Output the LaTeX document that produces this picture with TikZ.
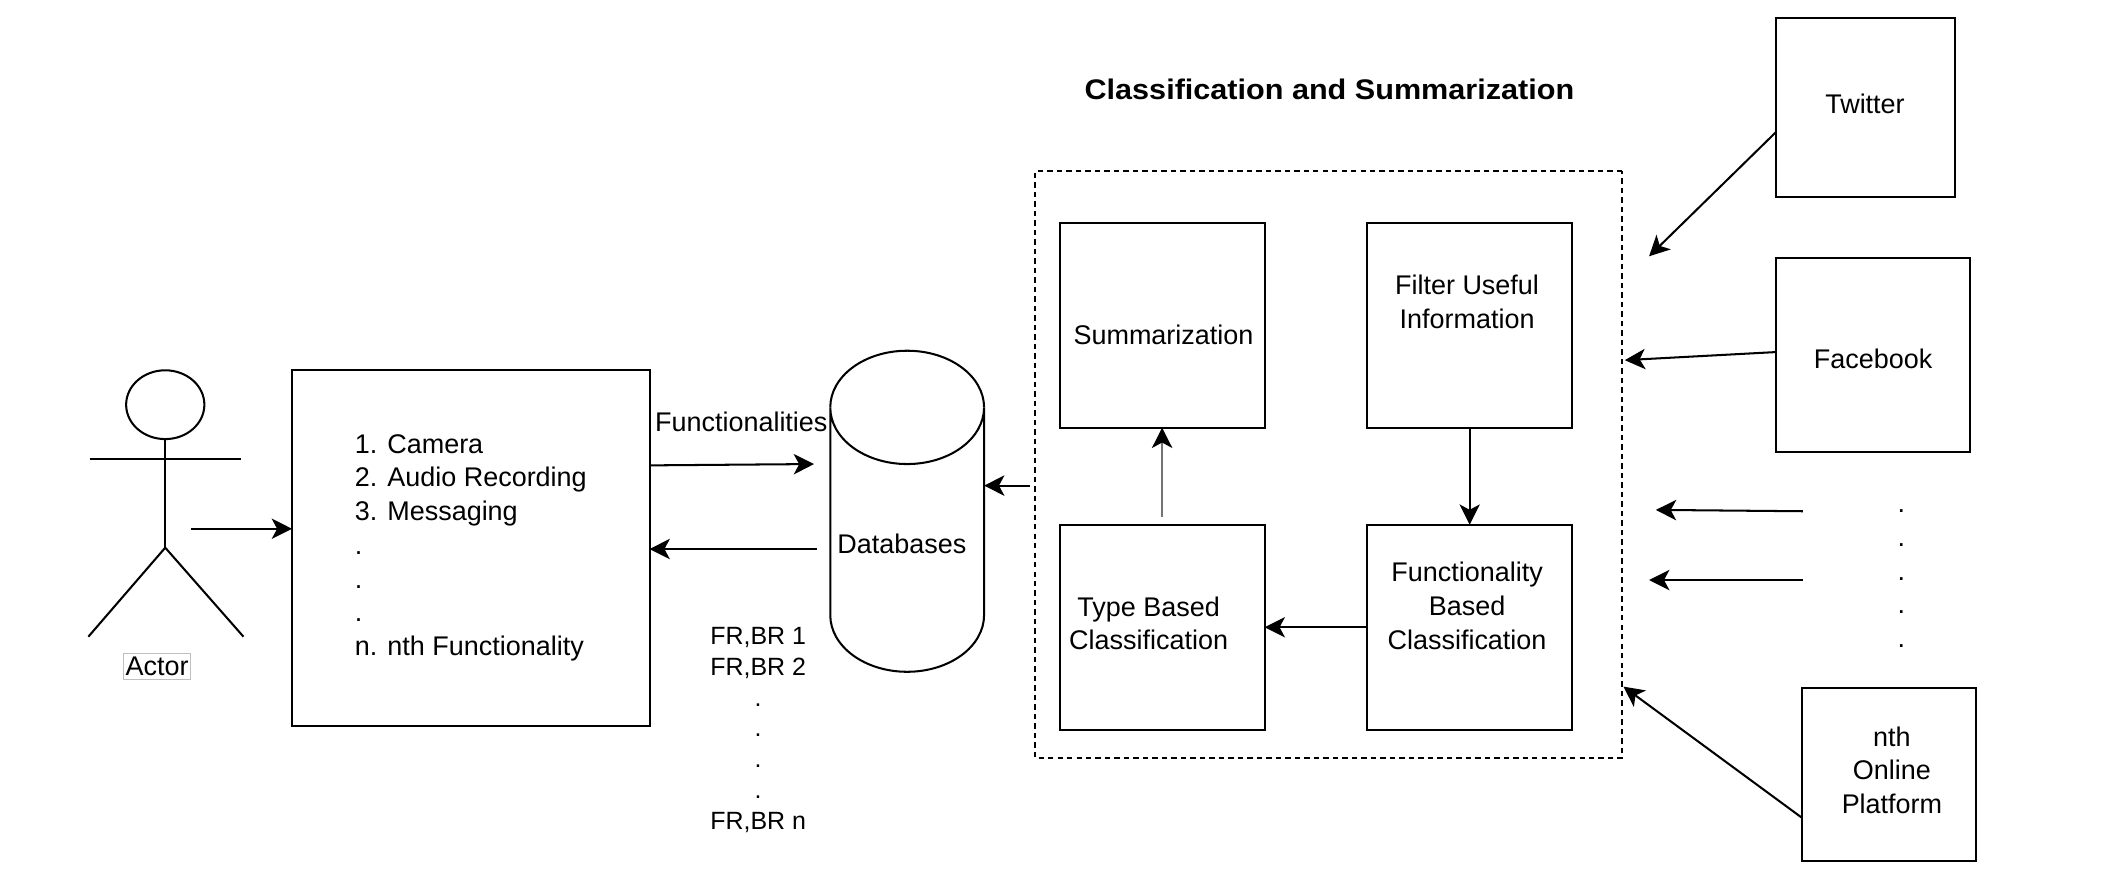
\documentclass[tikz,border=0pt]{standalone}
\usepackage{fontspec}
\setmainfont{Liberation Sans}
\newfontfamily\titlefont[FakeStretch=1.08]{Liberation Sans}
\usetikzlibrary{arrows.meta,calc,shapes.geometric}
\tikzset{
  lw/.style={line width=1.5pt,black},
  boxn/.style={draw,lw,inner sep=0pt,outer sep=0pt,fill=none},
  txt/.style={inner sep=0pt,outer sep=0pt,align=center,font=\fontsize{20}{25}\selectfont},
  smalltxt/.style={inner sep=0pt,outer sep=0pt,align=center,font=\fontsize{18.5}{22.8}\selectfont},
  arr/.style={lw,-{Stealth[length=15pt,width=15pt,inset=4pt]}},
}
\begin{document}
\begin{tikzpicture}[x=1pt,y=-1pt]
\useasboundingbox (0,0) rectangle (1560,647.6);
\begin{scope}[xshift=0.5pt,scale=0.995,every node/.append style={transform shape}]
% actor
\node[draw,lw,ellipse,inner sep=0pt,minimum width=58pt,minimum height=51pt] (head) at (122,300) {};
\coordinate (hip) at (122,406);
\coordinate (armL) at (66,340);
\coordinate (armR) at (178,340);
\coordinate (footL) at (65,472);
\coordinate (footR) at (180,472);
\draw[lw] (head.south) -- (hip);
\draw[lw] (armL) -- (armR);
\draw[lw] (footL) -- (hip) -- (footR);
\node[draw=black!25,line width=.6pt,inner xsep=1.5pt,inner ysep=3pt,font=\fontsize{20}{24}\selectfont] (actor) at (116,494) {Actor};
% functionality list
\node[boxn,minimum width=265pt,minimum height=264pt,align=left,font=\fontsize{20}{25}\selectfont] (list) at (348.5,406)
  {1. Camera\\2. Audio Recording\\3. Messaging\\.\\.\\.\\n. nth Functionality};
% database
\node[inner sep=0pt,outer sep=0pt,minimum width=114pt,minimum height=238pt] (db) at (672,379) {};
\draw[lw] (db.north west) ++(0,42) arc[start angle=180,end angle=0,x radius=57pt,y radius=-42pt]
  -- ++(0,154) arc[start angle=0,end angle=180,x radius=57pt,y radius=-42pt] -- cycle;
\draw[lw] (db.north west) ++(0,42) arc[start angle=180,end angle=360,x radius=57pt,y radius=-42pt];
\node[txt] (dblabel) at (668,403) {Databases};
\node[smalltxt,font=\fontsize{20}{22}\selectfont] (funcs) at (549,313) {Functionalities};
\node[smalltxt] (fr) at (561.5,541) {FR,BR 1\\FR,BR 2\\.\\.\\.\\.\\FR,BR n};
% classification
\node[txt,font=\titlefont\bfseries\fontsize{21}{25}\selectfont] (title) at (985,66) {Classification and Summarization};
\node[boxn,dashed,dash pattern=on 4pt off 3pt,minimum width=435pt,minimum height=435pt] (group) at (984.5,344.5) {};
\node[boxn,minimum width=152pt,minimum height=152pt] (sum) at (861,241) {};
\node[boxn,minimum width=152pt,minimum height=152pt] (filter) at (1089,241) {};
\node[boxn,minimum width=152pt,minimum height=152pt] (type) at (861,465) {};
\node[boxn,minimum width=152pt,minimum height=152pt] (func) at (1089,465) {};
\node[txt] (sumt) at (862,248) {Summarization};
\node[txt] (filtert) at (1087,224) {Filter Useful\\Information};
\node[txt] (typet) at (851,462) {Type Based\\Classification};
\node[txt] (funct) at (1087,449) {Functionality\\Based\\Classification};
% sources
\node[boxn,minimum width=133pt,minimum height=133pt] (twitter) at (1382.5,79.5) {};
\node[boxn,minimum width=144pt,minimum height=144pt] (facebook) at (1388,263) {};
\node[boxn,minimum width=129pt,minimum height=128pt] (nth) at (1399.5,574) {};
\node[txt] (twittert) at (1382,77) {Twitter};
\node[txt] (facebookt) at (1388,266) {Facebook};
\node[txt] (ntht) at (1402,571) {nth\\Online\\Platform};
\node[txt] (dots) at (1409,429) {.\\.\\.\\.\\.};
% free ends
\coordinate (a0) at (141,392);
\coordinate (a1) at (603,344);
\coordinate (a2) at (605,407);
\coordinate (a3) at (763,360);
\coordinate (tw) at (1222,190);
\coordinate (twS) at (1316,98);
\coordinate (fbE) at (1204,267);
\coordinate (fbS) at (1316,261);
\coordinate (d1s) at (1336,379);
\coordinate (d1e) at (1227,378);
\coordinate (d2s) at (1336,430);
\coordinate (d2e) at (1222,430);
\coordinate (nS) at (1335,606);
\coordinate (nE) at (1203,509);
\coordinate (fS) at (481,345);
% connectors
\draw[arr] (a0) -- (list.west |- a0);
\draw[arr] (list.east |- fS) -- (a1);
\draw[arr] (a2) -- (list.east |- a2);
\draw[arr] (a3) -- (db.east |- a3);
\draw[arr] (twitter.west |- twS) -- (tw);
\draw[arr] (facebook.west |- fbS) -- (fbE);
\draw[arr] (d1s) -- (d1e);
\draw[arr] (d2s) -- (d2e);
\draw[arr] (nth.west |- nS) -- (nE);
\draw[line width=1.7pt,black!55!white,{}-{Stealth[length=15pt,width=15pt,inset=4pt,black]}] ($(type.north)+(0,-6)$) -- (sum.south);
\draw[arr] (filter.south) -- (func.north);
\draw[arr] (func.west) -- (type.east);
\end{scope}
\end{tikzpicture}
\end{document}
